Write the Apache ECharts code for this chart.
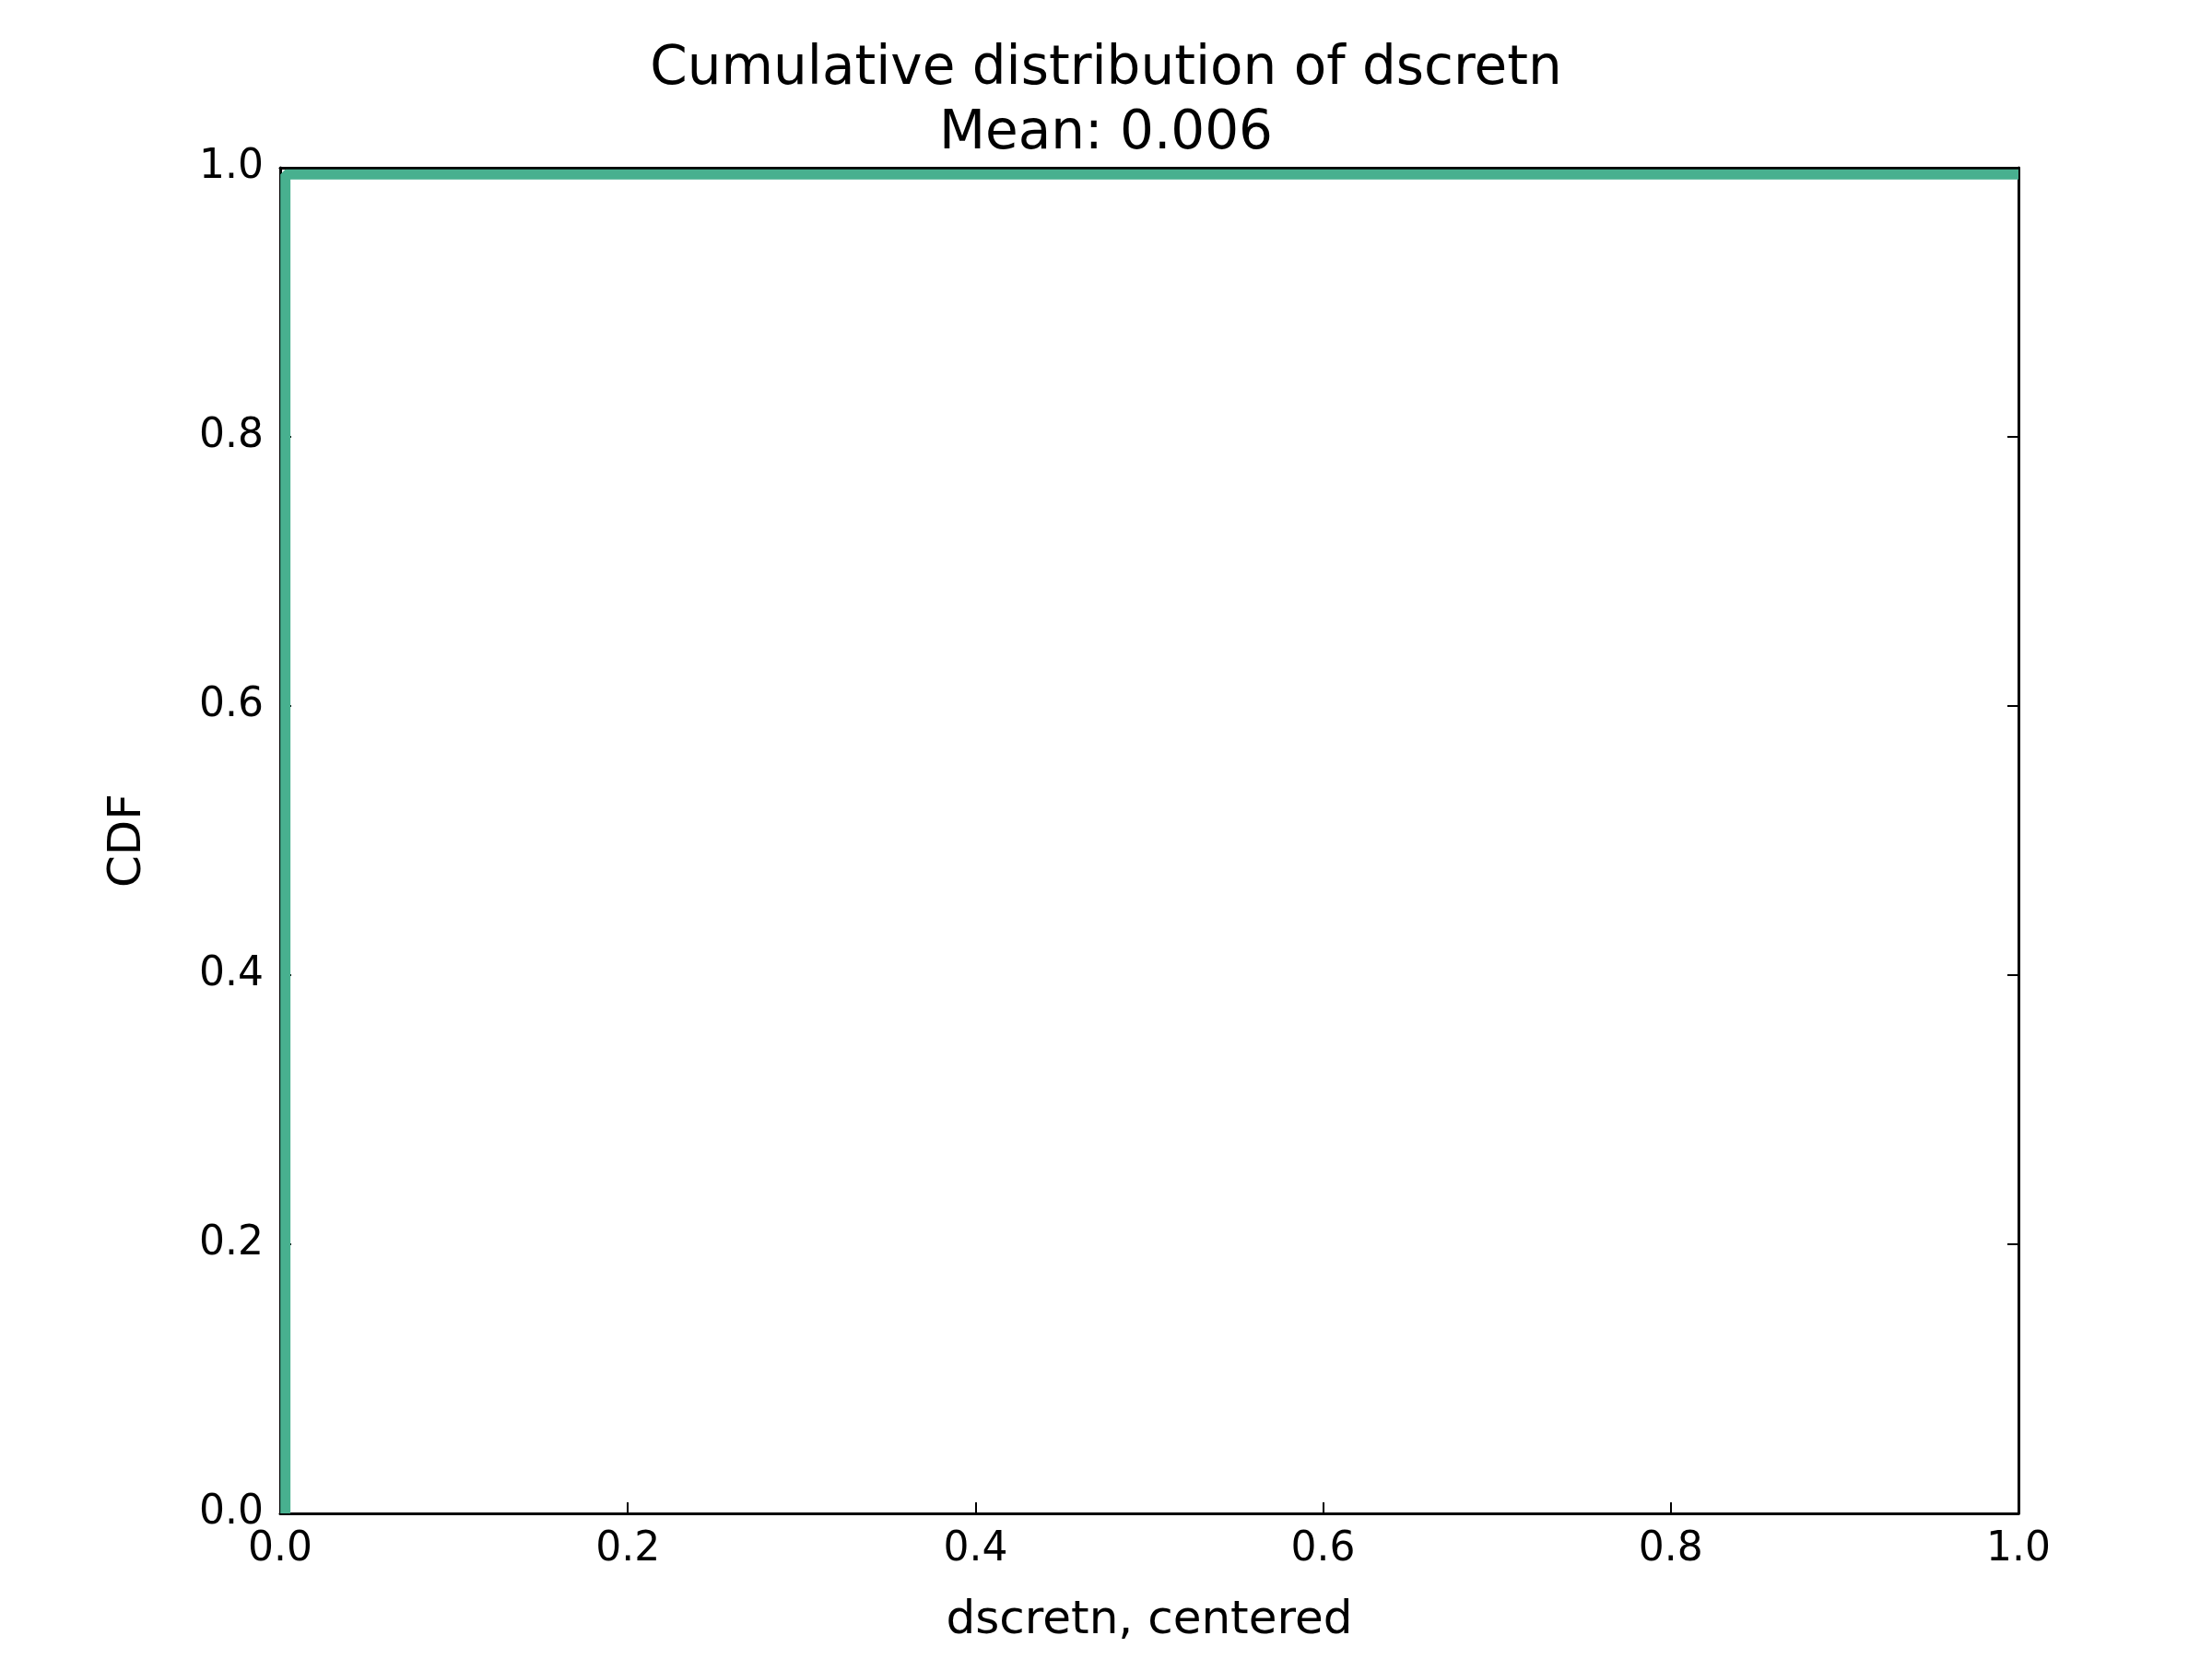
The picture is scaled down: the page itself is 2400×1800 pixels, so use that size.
<!DOCTYPE html>
<html><head><meta charset="utf-8">
<script src="https://cdn.jsdelivr.net/npm/echarts@6/dist/echarts.min.js"></script>
<style>html,body{margin:0;background:#fff}#c{width:2400px;height:1800px}</style>
</head><body><div id="c"></div>
<script>
var cdfX=[0.003,0.003,1.0];
var cdfY=[0,0.995,0.995];
var xTicks=[0,0.2,0.4,0.6,0.8,1.0];
var yTicks=[0,0.2,0.4,0.6,0.8,1.0];

var pts=cdfX.map(function(x,i){return [x,cdfY[i]];});
var font='DejaVu Sans';
function ax(name,gap,pos){
	return {
		type:'value',min:0,max:1,interval:0.2,position:pos,
		name:name,nameLocation:'middle',nameGap:gap,
		nameTextStyle:{fontFamily:font,fontSize:50,color:'#000'},
		axisLine:{show:true,onZero:false,lineStyle:{color:'#000',width:3}},
		axisTick:{show:true,inside:true,length:12,lineStyle:{color:'#000',width:2}},
		axisLabel:{fontFamily:font,fontSize:44,color:'#000',margin:18,formatter:function(v){return v.toFixed(1);}},
		splitLine:{show:false}
	};
}
function mirror(pos){
	var a=ax('',0,pos);a.axisLabel={show:false};a.name='';return a;
}
var chart=echarts.init(document.getElementById('c'));
chart.setOption({
	animation:false,
	title:{text:'Cumulative distribution of dscretn\nMean: 0.006',left:'center',top:36,
		textStyle:{fontFamily:font,fontSize:58,fontWeight:'normal',color:'#000',lineHeight:70}},
	grid:{left:304,right:210,top:182,bottom:158},
	xAxis:[ax('dscretn, centered',92,'bottom'),mirror('top')],
	yAxis:[ax('CDF',140,'left'),mirror('right')],
	series:[{type:'line',data:pts,showSymbol:false,clip:true,
		lineStyle:{color:'#48b08f',width:11}}]
});
</script></body></html>
